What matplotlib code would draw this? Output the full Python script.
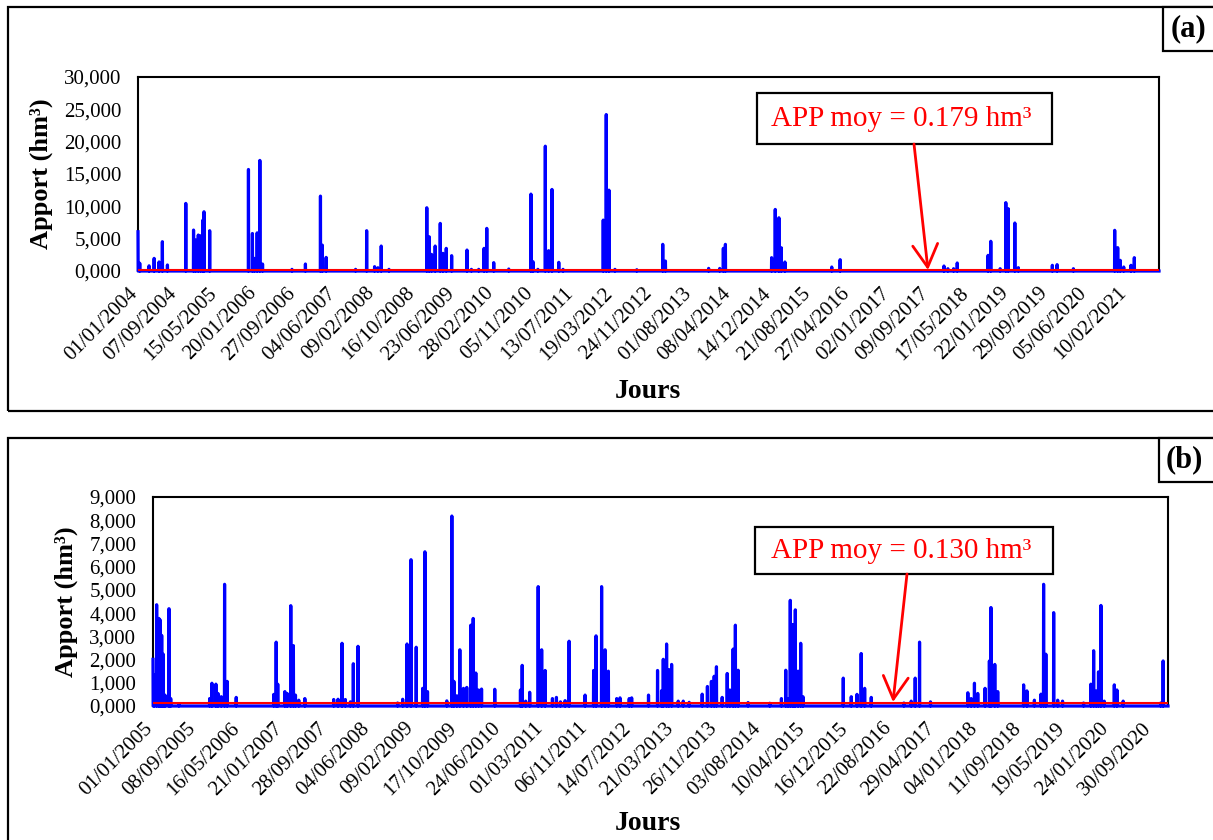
#!/usr/bin/env python3

import numpy as np
import pandas as pd
import matplotlib

matplotlib.use("Agg")
import matplotlib.pyplot as plt
import matplotlib.transforms as mtransforms
from matplotlib.patches import Rectangle, FancyArrowPatch

W, H = 1213, 840  # figure size in px

# MARK: data
# (a) daily inflow, 01/01/2004 -> 31/08/2021 ; peaks given as (day index, hm3)
start_a, end_a = "2004-01-01", "2021-08-31"
missing_a = []
peak_day_a = [
    0, 11, 70, 102, 133, 154, 186, 302, 351, 364, 381, 396, 410, 417, 453,
    698, 723, 736, 753, 770, 787, 973, 1058, 1153, 1165, 1189, 1375, 1445,
    1495, 1516, 1537, 1586,
    1825, 1840, 1855, 1878, 1910, 1927, 1948, 1982, 2079, 2107, 2153, 2187,
    2204, 2248, 2343, 2483, 2496, 2527, 2574, 2595, 2616, 2659, 2686, 2940,
    2959, 2976, 3014, 3152, 3316, 3333, 3606, 3676, 3699, 3712, 4004, 4027,
    4050, 4065, 4088,
    4384, 4437, 5093, 5118, 5154, 5177, 5372, 5389, 5448, 5484, 5499, 5541,
    5563, 5778, 5808, 5911, 6172, 6191, 6207, 6229, 6275, 6296,
]
peak_val_a = [
    6.07, 1.20, 0.80, 1.95, 1.40, 4.53, 0.93, 10.45, 6.33, 4.80, 5.56, 5.45,
    7.87, 9.16, 6.23, 15.70, 5.80, 1.95, 5.90, 17.10, 1.08, 0.26, 1.08, 11.58,
    4.00, 2.10, 0.26, 6.23, 0.67, 0.51, 3.86, 0.26,
    9.78, 5.30, 2.57, 3.86, 7.36, 2.73, 3.50, 2.37, 3.24, 0.26, 0.26, 3.50,
    6.59, 1.29, 0.31, 11.89, 1.44, 0.26, 19.30, 3.14, 12.61, 1.34, 0.26, 7.87,
    24.19, 12.50, 0.26, 0.20, 4.12, 1.54, 0.41, 0.40, 3.50, 4.12, 2.06, 9.52,
    8.23, 3.60, 1.39,
    0.62, 1.75, 0.77, 0.36, 0.36, 1.24, 2.42, 4.59, 0.36, 10.57, 9.64, 7.42,
    0.52, 0.88, 0.98, 0.36, 6.29, 3.61, 1.65, 0.62, 0.88, 2.06,
]
app_moy_a = 0.179

# (b) daily inflow, 01/01/2005 -> 31/12/2020 (29/02/2012 absent from the record)
start_b, end_b = "2005-01-01", "2020-12-31"
missing_b = ["2012-02-29"]
peak_day_b = [
    0, 6, 21, 34, 42, 50, 59, 69, 92, 102, 149, 326, 339, 362, 374, 393, 412,
    427, 479, 695, 709, 718, 759, 772, 793, 808, 820, 839, 874, 1040, 1065,
    1088, 1107, 1136, 1153, 1180, 1408, 1437, 1462, 1485, 1515,
    1552, 1565, 1580, 1691, 1720, 1732, 1749, 1766, 1787, 1806, 1829, 1843,
    1858, 1874, 1891, 1967, 2115, 2125, 2145, 2168, 2217, 2237, 2257, 2299,
    2322, 2345, 2372, 2395, 2487, 2536, 2550, 2582, 2602, 2621, 2669, 2688,
    2741, 2755, 2852, 2904, 2927, 2937, 2956, 2969, 2985, 3023, 3052, 3086,
    3161, 3191, 3214, 3230, 3243, 3276, 3305, 3320, 3339, 3352, 3368, 3425,
    3550, 3617, 3642, 3655, 3668, 3680, 3688, 3697, 3713, 3728, 3741,
    3973, 4019, 4052, 4076, 4096, 4134, 4322, 4364, 4387, 4412, 4475, 4690,
    4709, 4728, 4747, 4789, 4814, 4823, 4845, 4862, 5011, 5030, 5073, 5111,
    5126, 5139, 5184, 5207, 5235, 5356, 5398, 5414, 5429, 5442, 5456, 5475,
    5533, 5548, 5584, 5800, 5814,
]
peak_val_b = [
    2.01, 1.35, 4.36, 3.77, 3.70, 3.04, 2.23, 0.47, 4.19, 0.32, 0.10, 0.32,
    0.98, 0.94, 0.54, 0.40, 5.24, 1.06, 0.37, 0.50, 2.75, 0.94, 0.62, 0.54,
    4.32, 2.60, 0.47, 0.25, 0.32, 0.28, 0.29, 2.70, 0.28, 0.18, 1.82, 2.57,
    0.13, 0.29, 2.67, 6.30, 2.53,
    0.76, 6.64, 0.62, 0.22, 8.18, 1.06, 0.44, 2.42, 0.76, 0.80, 3.48, 3.77,
    1.42, 0.69, 0.73, 0.72, 0.69, 1.75, 0.21, 0.59, 5.14, 2.42, 1.53, 0.32,
    0.37, 0.18, 0.23, 2.79, 0.47, 1.53, 3.02, 5.14, 2.42, 1.50, 0.32, 0.35,
    0.32, 0.35, 0.47, 1.53, 0.66, 2.01, 2.67, 1.57, 1.79, 0.21, 0.21, 0.16,
    0.51, 0.84, 1.06, 1.28, 1.69, 0.37, 1.40, 0.69, 2.45, 3.48, 1.54, 0.15,
    0.12, 0.32, 1.54, 0.32, 4.55, 3.51, 2.45, 4.14, 1.50, 2.70, 0.40,
    1.20, 0.40, 0.50, 2.26, 0.76, 0.37, 0.13, 0.21, 1.20, 2.75, 0.18, 0.57,
    0.32, 0.98, 0.54, 0.76, 1.94, 4.24, 1.79, 0.62, 0.91, 0.65, 0.25, 0.51,
    5.24, 2.23, 4.02, 0.25, 0.21, 0.13, 0.94, 2.38, 0.65, 1.47, 4.33, 0.21,
    0.91, 0.69, 0.21, 0.13, 1.94,
]
app_moy_b = 0.130

SERIF = "Liberation Serif"
plt.rcParams["font.family"] = [SERIF, "DejaVu Serif"]


def fx(x):
    return x / W


def fy(y):
    return 1 - y / H


def daily_series(start, end, missing, days, vals):
    dates = pd.date_range(start, end, freq="D")
    if missing:
        dates = dates.drop(pd.to_datetime(missing))
    q = np.zeros(len(dates))
    q[np.array(days)] = vals
    return dates, q


def fig_rect(fig, box, **kw):
    x0, y0, x1, y1 = box
    fig.add_artist(Rectangle((fx(x0), fy(y1)), fx(x1) - fx(x0), fy(y0) - fy(y1),
                             transform=fig.transFigure, **kw))


def draw_panel(fig, rect_px, frame_px, tag_px, tag, start, end, missing, days,
               vals, moy, ymax, ystep, box_px, arrow_px, jours_y):
    # outer frame of the panel + (a)/(b) tag
    fig_rect(fig, frame_px, fill=False, edgecolor="black", lw=1.6)
    fig_rect(fig, tag_px, facecolor="white", edgecolor="black", lw=1.6)
    fig.text(fx(tag_px[0] + 25), fy((tag_px[1] + tag_px[3]) / 2), tag,
             fontsize=22, fontweight="bold", ha="center", va="center")

    l, t, r, b = rect_px
    ax = fig.add_axes([fx(l), fy(b), fx(r) - fx(l), fy(t) - fy(b)])

    dates, q = daily_series(start, end, missing, days, vals)
    n = len(q)
    ax.plot(np.arange(n), q, color="#0000FF", lw=2.3, solid_joinstyle="round",
            clip_on=False, zorder=3)
    ax.axhline(moy, color="#FF0000", lw=1.5, zorder=4)

    ax.set_xlim(0, n - 1)
    ax.set_ylim(0, ymax)
    yt = np.arange(0, ymax + ystep / 2, ystep)
    ax.set_yticks(yt)
    ax.set_yticklabels([f"{v:.3f}".replace(".", ",") for v in yt])
    xt = np.arange(0, n, 250)
    ax.set_xticks(xt)
    ax.set_xticklabels(dates[xt].strftime("%d/%m/%Y"), rotation=45,
                       ha="right", va="center", rotation_mode="anchor")
    ax.tick_params(axis="both", length=0, labelsize=15)
    ax.tick_params(axis="y", pad=12)
    ax.tick_params(axis="x", pad=14)
    # nudge the slanted labels a few px left so they end under their tick
    shift = mtransforms.ScaledTranslation(-3 / 100, 0, fig.dpi_scale_trans)
    for lab in ax.get_xticklabels():
        lab.set_transform(lab.get_transform() + shift)
    for s in ax.spines.values():
        s.set_linewidth(1.5)

    ax.set_ylabel("Apport (hm³)", fontsize=19, fontweight="bold", labelpad=8)
    fig.text(fx(648), fy(jours_y), "Jours", fontsize=20, fontweight="bold",
             ha="center", va="center")

    # mean annotation
    bx0, by0, bx1, by1 = box_px
    fig_rect(fig, box_px, facecolor="white", edgecolor="black", lw=1.6, zorder=5)
    fig.text(fx((bx0 + bx1) / 2 - 3), fy((by0 + by1) / 2 + 1),
             f"APP moy = {moy:.3f} hm³", color="#FF0000", fontsize=21,
             ha="center", va="center", zorder=6)
    (sx, sy), (ex, ey) = arrow_px
    fig.add_artist(FancyArrowPatch(
        (fx(sx), fy(sy)), (fx(ex), fy(ey)), transform=fig.transFigure,
        arrowstyle="->,head_length=0.9,head_width=0.5", mutation_scale=18,
        shrinkA=0, shrinkB=0, color="#FF0000", lw=2, zorder=6))
    return ax


def main():
    fig = plt.figure(figsize=(W / 100, H / 100), dpi=100)

    draw_panel(fig, (138, 77, 1159, 271), (8, 7, 1225, 411), (1163, 7, 1225, 51),
               "(a)", start_a, end_a, missing_a, peak_day_a, peak_val_a,
               app_moy_a, 30, 5, (757, 93, 1052, 144), ((914, 144), (928, 270)),
               392)

    draw_panel(fig, (153, 497, 1168, 706), (8, 438, 1225, 850), (1159, 438, 1225, 482),
               "(b)", start_b, end_b, missing_b, peak_day_b, peak_val_b,
               app_moy_b, 9, 1, (755, 527, 1053, 574), ((907, 574), (893, 702)),
               823)

    fig.savefig("out.png", dpi=100)
    print("wrote 'out.png'")


if __name__ == "__main__":
    main()
